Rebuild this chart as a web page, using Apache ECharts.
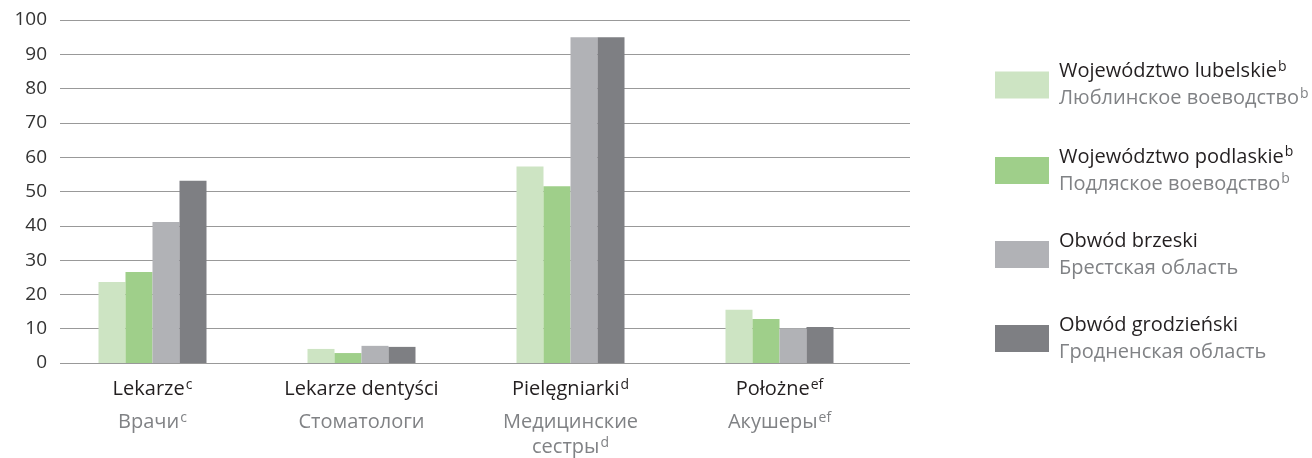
<!DOCTYPE html>
<html>
<head>
<meta charset="utf-8">
<script src="https://cdn.jsdelivr.net/npm/echarts@6/dist/echarts.min.js"></script>
<style>
  html, body { margin: 0; padding: 0; background: #ffffff; }
  #chart { width: 1312px; height: 458px; }
</style>
</head>
<body>
<div id="chart"></div>
<script>
// Health personnel per 10 000 population, by region
const categoriesPl = ['Lekarze', 'Lekarze dentyści', 'Pielęgniarki', 'Położne'];
const categoriesRu = ['Врачи', 'Стоматологи', 'Медицинские\nсестры', 'Акушеры'];
const categoryNotes = ['c', '', 'd', 'ef'];

const seriesNamesPl = ['Województwo lubelskie', 'Województwo podlaskie', 'Obwód brzeski', 'Obwód grodzieński'];
const seriesNamesRu = ['Люблинское воеводство', 'Подляское воеводство', 'Брестская область', 'Гродненская область'];
const seriesNotes = ['b', 'b', '', ''];

const lubelskie = [23.6, 4.1, 57.3, 15.5];
const podlaskie = [26.5, 2.9, 51.5, 12.8];
const brzeski = [41.1, 5.0, 95.0, 10.1];
const grodzienski = [53.1, 4.7, 95.0, 10.5];

const yTicks = { min: 0, max: 100, interval: 10 };

const seriesValues = [lubelskie, podlaskie, brzeski, grodzienski];
const seriesColors = ['#cde4c3', '#9fcf8a', '#b1b2b6', '#7e7f83'];

const FONT = '"Open Sans", "DejaVu Sans", sans-serif';
const DARK = '#231f20';
const GREY = '#808285';

function sup(style, note) {
  return note ? '{' + style + '|' + note + '}' : '';
}

function categoryLabel(value) {
  const i = categoriesPl.indexOf(value);
  const note = categoryNotes[i];
  const ruLines = categoriesRu[i].split('\n');
  let text = '{pl|' + value + '}' + sup('supPl', note);
  ruLines.forEach(function (line, k) {
    text += '\n{ru|' + line + '}' + (k === ruLines.length - 1 ? sup('supRu', note) : '');
  });
  return text;
}

function legendLabel(name) {
  const i = seriesNamesPl.indexOf(name);
  const note = seriesNotes[i];
  return '{pl|' + name + '}' + sup('supPl', note) + '\n{ru|' + seriesNamesRu[i] + '}' + sup('supRu', note);
}

// superscript footnote marks: smaller text lifted above the line middle
const supRaise = [0, 0, 9, 1];

const chart = echarts.init(document.getElementById('chart'), null, { renderer: 'canvas' });

chart.setOption({
  animation: false,
  backgroundColor: '#ffffff',
  textStyle: { fontFamily: FONT },
  grid: [
    // frame holding the value scale and its gridlines
    { left: 60, right: 402, top: 20, bottom: 95 },
    // frame holding the bar groups
    { left: 48, right: 428, top: 20, bottom: 95 }
  ],
  legend: {
    orient: 'vertical',
    left: 995,
    top: 60,
    padding: 0,
    itemWidth: 54,
    itemHeight: 27,
    itemGap: 37,
    icon: 'rect',
    selectedMode: false,
    data: seriesNamesPl,
    formatter: legendLabel,
    textStyle: {
      fontFamily: FONT,
      rich: {
        pl: { fontSize: 20, color: DARK, lineHeight: 27, fontFamily: FONT, padding: [0, 0, 0, 5] },
        ru: { fontSize: 20, color: GREY, lineHeight: 27, fontFamily: FONT, padding: [0, 0, 0, 5] },
        supPl: { fontSize: 14, color: DARK, fontFamily: FONT, padding: supRaise },
        supRu: { fontSize: 14, color: GREY, fontFamily: FONT, padding: supRaise }
      }
    }
  },
  xAxis: [
    {
      type: 'category', gridIndex: 0, data: categoriesPl, show: false
    },
    {
      type: 'category', gridIndex: 1, data: categoriesPl,
      axisLine: { show: false },
      axisTick: { show: false },
      axisLabel: {
        interval: 0,
        margin: 6,
        formatter: categoryLabel,
        rich: {
          pl: { fontSize: 20, color: DARK, lineHeight: 41, fontFamily: FONT },
          ru: { fontSize: 20, color: GREY, lineHeight: 25, fontFamily: FONT },
          supPl: { fontSize: 14, color: DARK, fontFamily: FONT, padding: supRaise },
          supRu: { fontSize: 14, color: GREY, fontFamily: FONT, padding: supRaise }
        }
      }
    }
  ],
  yAxis: [
    {
      type: 'value', gridIndex: 0,
      min: yTicks.min, max: yTicks.max, interval: yTicks.interval,
      axisLine: { show: false },
      axisTick: { show: false },
      axisLabel: { fontSize: 19, color: '#333333', margin: 13, fontFamily: FONT },
      splitLine: { show: true, lineStyle: { color: '#999999', width: 1 } }
    },
    {
      type: 'value', gridIndex: 1,
      min: yTicks.min, max: yTicks.max, interval: yTicks.interval,
      show: false,
      splitLine: { show: false }
    }
  ],
  series: seriesValues.map(function (vals, i) {
    return {
      name: seriesNamesPl[i],
      type: 'bar',
      xAxisIndex: 1,
      yAxisIndex: 1,
      data: vals,
      barWidth: 27,
      barGap: '0%',
      itemStyle: { color: seriesColors[i] }
    };
  })
});
</script>
</body>
</html>
